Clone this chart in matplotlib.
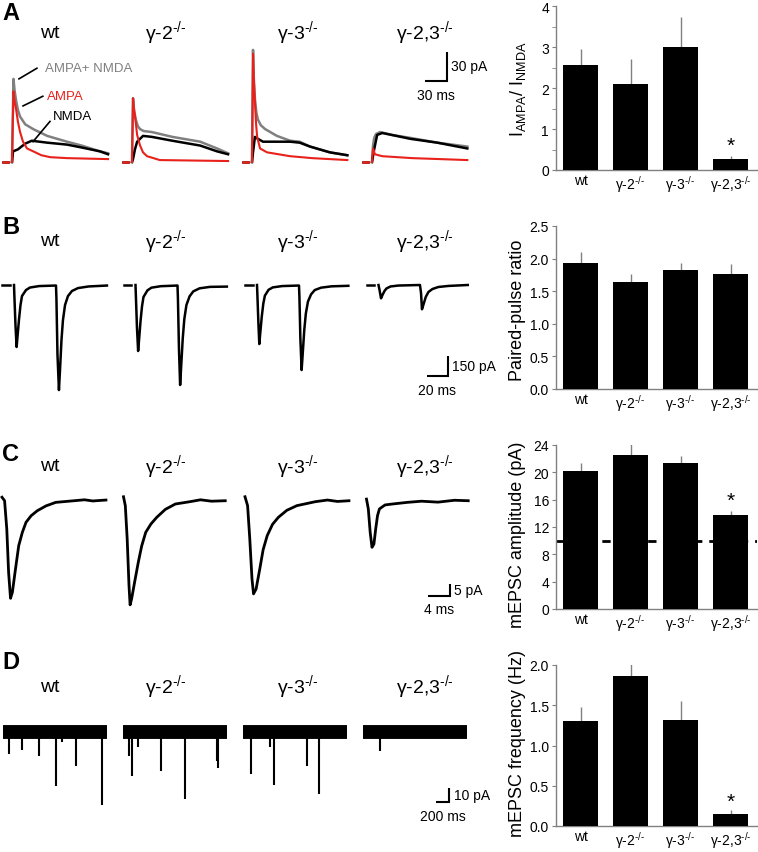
import numpy as np
import matplotlib
matplotlib.use("Agg")
import matplotlib.pyplot as plt
from matplotlib.ticker import MultipleLocator, FormatStrFormatter

plt.rcParams['font.family'] = ['Liberation Sans', 'DejaVu Sans']
plt.rcParams['mathtext.fontset'] = 'custom'
plt.rcParams['mathtext.rm'] = 'Liberation Sans'
plt.rcParams['mathtext.it'] = 'Liberation Sans:italic'
plt.rcParams['mathtext.bf'] = 'Liberation Sans:bold'

W, H = 758, 853
RED = '#e8211b'
GREY = '#808080'

# genotype labels
geno_labels = ['wt', r'γ-2$^{\text{-/-}}$', r'γ-3$^{\text{-/-}}$', r'γ-2,3$^{\text{-/-}}$']

# ---- bar chart values (mean, upper SEM) ----
ratio_mean = [2.57, 2.10, 2.99, 0.27]
ratio_err = [0.39, 0.61, 0.73, 0.07]
ppr_mean = [1.94, 1.64, 1.82, 1.77]
ppr_err = [0.16, 0.12, 0.11, 0.15]
amp_mean = [20.2, 22.5, 21.4, 13.8]
amp_err = [1.2, 1.6, 1.0, 0.6]
amp_cutoff = 10
freq_mean = [1.30, 1.86, 1.32, 0.15]
freq_err = [0.18, 0.15, 0.23, 0.045]

# ---- A: evoked EPSCs at +40 mV (ms, pA) ----
a_gray_t = [[0, 2, 3.5, 5.5, 8, 11, 18, 29, 48, 75, 95, 120, 131],
            [0, 1.4, 3, 5.5, 8, 11, 16, 27, 55, 93, 116, 131],
            [0, 1.4, 2.5, 4, 6, 8, 12, 18, 34, 52, 65, 79, 106, 130],
            [0, 1.4, 3, 5.5, 11, 27, 52, 89, 130]]
a_gray_i = [[0, 86, 74, 64, 54, 47, 39, 34, 27, 21, 17, 11, 9],
            [0, 66, 52, 43, 37, 34, 32, 31, 26, 21, 14, 9],
            [0, 116, 86, 65, 51, 44, 38, 34, 27, 22, 21, 16, 10, 7],
            [0, 17, 25, 29, 31, 28, 25, 20, 16]]
a_black_t = [[0, 1.4, 8, 18, 27, 48, 75, 95, 120, 131],
             [0, 1.4, 4, 7, 15, 27, 55, 93, 116, 131],
             [0, 1.4, 4, 8, 15, 52, 65, 79, 106, 130],
             [0, 2.7, 7, 14, 27, 52, 89, 130]]
a_black_i = [[0, 11, 13, 19, 22, 20, 18, 15, 11, 8],
             [0, 3, 13, 21, 27, 26, 22, 17, 11, 8],
             [0, 10, 26, 24, 21, 21, 20, 16, 10, 7],
             [0, 12, 28, 30, 28, 24, 20, 14]]
a_red_t = [[0, 2, 3.5, 5.5, 8, 11, 15, 20.5, 29, 40, 52, 75, 131],
           [0, 1.4, 2.5, 4, 7, 11, 15, 20.5, 38, 131],
           [0, 1.4, 2.5, 4, 5.5, 7, 11, 20.5, 52, 82, 130],
           [0, 1.4, 4, 14, 55, 130]]
a_red_i = [[0, 73, 63, 55, 42, 31, 21, 14, 11, 7, 5, 4, 3],
           [0, 66, 56, 48, 28, 17, 10, 6, 2, 1],
           [0, 112, 85, 62, 40, 26, 14, 10, 6, 4, 2],
           [0, 14, 8, 6, 4, 2]]

# ---- B: paired-pulse EPSCs (ms, pA) ----
b_t = [[0, 0.4, 1.4, 2.5, 3.3, 4.8, 6.2, 7.6, 11.4, 15.2, 24, 40,
        40.4, 41.4, 42.8, 43.8, 45.2, 46.6, 48.6, 51.4, 55.2, 61, 71, 88.5],
       [0, 0.4, 1.4, 2.5, 3.3, 4.8, 6.2, 7.6, 11.4, 15.2, 24, 40,
        40.4, 41.4, 42.5, 43.5, 45, 46.5, 48.5, 51.5, 55, 61, 71, 87],
       [0, 0.4, 1.3, 2.2, 3, 4.5, 6, 7.5, 11, 15, 24, 40,
        40.4, 41.3, 42.5, 43.5, 45, 46.5, 48.5, 51.5, 55, 61, 71, 87],
       [0, 1, 2.4, 3.8, 5.7, 7.6, 11.4, 19, 39.5,
        40.5, 41.4, 43, 45, 47.6, 51.4, 57, 66.6, 85]]
b_i = [[0, -90, -300, -465, -390, -255, -150, -83, -38, -19, -8, -4,
        -100, -520, -788, -640, -415, -265, -150, -83, -45, -23, -11, -4],
       [0, -90, -320, -495, -420, -270, -160, -90, -40, -20, -9, -4,
        -100, -480, -750, -610, -400, -255, -150, -85, -48, -25, -14, -12],
       [0, -80, -280, -443, -370, -240, -140, -80, -36, -18, -8, -4,
        -90, -400, -638, -520, -340, -215, -125, -70, -38, -20, -10, -6],
       [0, -38, -100, -75, -45, -26, -11, -4, 0,
        -60, -182, -142, -90, -52, -30, -15, -7, 0]]

# ---- C: averaged mEPSCs (ms, pA) ----
c_t = [[0, 0.47, 0.87, 1.2, 1.55, 1.89, 2.37, 3.04, 3.7, 4.37, 5.3, 6.4, 8, 9.77, 13.1, 15, 16.5, 18.9],
       [0, 0.33, 0.67, 1.0, 1.2, 1.47, 2.02, 2.69, 3.3, 4.04, 5, 6.04, 7.6, 9.43, 12.1, 14, 16, 18.5],
       [0, 0.47, 0.87, 1.27, 1.55, 2.02, 2.69, 3.3, 4.04, 5, 6.06, 7.6, 9.43, 12.8, 15, 16.8, 18.9],
       [0, 0.33, 0.67, 1.0, 1.35, 1.67, 2.0, 2.35, 3.37, 4.71, 7.4, 10, 13, 16, 18.5]]
c_i = [[1.4, -0.1, -12.2, -30.7, -41.8, -39.2, -30.7, -19.3, -13.6, -9.3, -6.5, -4.4, -2.3, -0.8, -0.1, 0.3, -0.2, 0.2],
       [1.6, -2.2, -16.4, -36.4, -44.6, -42.1, -34.9, -26.4, -19.5, -13.6, -10, -7.2, -3.8, -1.5, -0.5, 0.3, -0.3, -0.1],
       [1.6, -2.2, -16.4, -33.5, -39.9, -37.8, -29.2, -21, -15.0, -10.2, -7.2, -4.2, -2.2, -0.5, 0.2, -0.4, -0.1],
       [0.6, -3.6, -13.6, -20.0, -18.6, -12.2, -6.5, -3.6, -1.9, -1.5, -0.8, -0.3, -0.7, 0.1, -0.1]]

# ---- D: mEPSC events in 1.6 s sweeps (ms, pA) ----
d_len = 1600
d_event_t = [[95, 296, 551, 808, 911, 1120, 1519],
             [95, 142, 226, 580, 956, 1452, 1469],
             [126, 410, 479, 992, 1163],
             [262]]
d_event_a = [[-15.7, -12.6, -16.9, -38.3, -7.4, -24.1, -52.1],
             [-17.4, -31.2, -10.9, -27.6, -47.8, -20.5, -25.9],
             [-30, -10.9, -37.8, -24.5, -44.3],
             [-13.4]]

fig = plt.figure(figsize=(W / 100, H / 100), dpi=100)


def ftxt(x, y, s, **kw):
    fig.text(x / W, 1 - y / H, s, **kw)


def trace_axes(top, bottom, x0, y0, ms_px, pa_px):
    ax = fig.add_axes([0, 1 - bottom / H, 540 / W, (bottom - top) / H])
    ax.set_xlim(-x0 * ms_px, (540 - x0) * ms_px)
    ax.set_ylim((y0 - bottom) * pa_px, (y0 - top) * pa_px)
    ax.axis('off')
    return ax


def scale_bar(ax, t, i, dt, di, tlab, ilab):
    ax.plot([t - dt, t, t], [i, i, i + di], color='black', lw=1.5,
            solid_joinstyle='miter', solid_capstyle='butt')
    ax.annotate(ilab, xy=(t, i + di / 2), xytext=(3, 0), textcoords='offset points',
                ha='left', va='center', fontsize=10)
    ax.annotate(tlab, xy=(t - dt / 2, i), xytext=(0, -5), textcoords='offset points',
                ha='center', va='top', fontsize=10)


def bar_panel(top, bottom, means, errs, ymax, major, minor, fmt, ylabel, ylab_y, star=None):
    ax = fig.add_axes([556 / W, 1 - bottom / H, 201 / W, (bottom - top) / H])
    x = np.arange(len(means))
    ax.bar(x, means, width=0.7, color='black', zorder=3)
    ax.errorbar(x, means, yerr=[np.zeros(len(errs)), errs], fmt='none',
                ecolor=GREY, elinewidth=1, capsize=0, zorder=2)
    ax.set_xlim(-0.49, 3.53)
    ax.set_ylim(0, ymax)
    ax.yaxis.set_major_locator(MultipleLocator(major))
    if minor:
        ax.yaxis.set_minor_locator(MultipleLocator(minor))
    ax.yaxis.set_major_formatter(FormatStrFormatter(fmt))
    for s in ['top', 'right']:
        ax.spines[s].set_visible(False)
    for s in ['left', 'bottom']:
        ax.spines[s].set_color(GREY)
        ax.spines[s].set_linewidth(1)
    ax.tick_params(axis='y', which='both', direction='out', length=3, color=GREY,
                   labelsize=10, pad=2)
    ax.set_xticks(x)
    ax.set_xticklabels(geno_labels)
    ax.tick_params(axis='x', length=0, pad=2.5, labelsize=10)
    ftxt(518, ylab_y, ylabel, rotation=90, ha='center', va='center', fontsize=13)
    if star is not None:
        ax.text(3, star, '*', ha='center', va='center', fontsize=15)
    return ax


title_x = [50, 166, 298, 425]

# ================= A =================
axA = trace_axes(42, 205, 12, 163, 30 / 22, 30 / 29)
a_off = 120 * 30 / 22
for k in range(4):
    o = k * a_off
    axA.plot([o - 12, o - 5.5], [0, 0], color='black', lw=1.8)
    axA.plot([o - 12, o - 5.5], [0, 0], color=RED, lw=1.8)
    axA.plot(np.array(a_gray_t[k]) + o, a_gray_i[k], color=GREY, lw=1.8)
    axA.plot(np.array(a_black_t[k]) + o, a_black_i[k], color='black', lw=1.8)
    axA.plot(np.array(a_red_t[k]) + o, a_red_i[k], color=RED, lw=1.5)
axA.plot([9.5, 34], [86, 97], color='black', lw=1.2)
axA.plot([15, 42], [58, 68], color='black', lw=1.2)
axA.plot([28.6, 51.8], [21, 42], color='black', lw=1.2)
axA.text(45, 97, 'AMPA+ NMDA', color=GREY, fontsize=9.5, va='center')
axA.text(47.7, 68, 'AMPA', color=RED, fontsize=9.5, va='center')
axA.text(56, 48, 'NMDA', color='black', fontsize=9.5, va='center')
scale_bar(axA, 593, 84, 30, 30, '30 ms', '30 pA')

bar_panel(7, 171, ratio_mean, ratio_err, 4, 1, 0.5, '%d',
          r'I$_{\mathregular{AMPA}}$/ I$_{\mathregular{NMDA}}$', 89, star=0.6)

# ================= B =================
axB = trace_axes(255, 410, 14, 286, 20 / 21, 7.5)
b_off = 121.5 * 20 / 21
for k in range(4):
    o = k * b_off
    axB.plot([o - 11, o - 4], [0, 0], color='black', lw=1.8)
    axB.plot(np.array(b_t[k]) + o, b_i[k], color='black', lw=1.8)
scale_bar(axB, 413, -683, 20, 150, '20 ms', '150 pA')

bar_panel(227, 390, ppr_mean, ppr_err, 2.5, 0.5, None, '%.1f',
          'Paired-pulse ratio', 310)

# ================= C =================
axC = trace_axes(480, 625, 2, 501.5, 4 / 22, 5 / 11.7)
c_off = 121.5 * 4 / 22
for k in range(4):
    o = k * c_off
    axC.plot(np.array(c_t[k]) + o, c_i[k], color='black', lw=2)
scale_bar(axC, 81.4, -40.6, 4, 5, '4 ms', '5 pA')

axAmp = bar_panel(446, 610, amp_mean, amp_err, 24, 4, None, '%d',
                  'mEPSC amplitude (pA)', 535, star=15.9)
axAmp.axhline(amp_cutoff, color='black', lw=2, ls=(0, (3, 2.5)), zorder=1)

# ================= D =================
axD = trace_axes(700, 830, 3, 733, 200 / 13, 10 / 14)
d_off = 120 * 200 / 13
for k in range(4):
    o = k * d_off
    axD.plot([o, o + d_len], [0, 0], color='black', lw=10, solid_capstyle='butt')
    axD.vlines(np.array(d_event_t[k]) + o, 0, d_event_a[k], color='black', lw=1.5)
scale_bar(axD, 6868, -50, 200, 10, '200 ms', '10 pA')

bar_panel(666, 827, freq_mean, freq_err, 2.0, 0.5, None, '%.1f',
          'mEPSC frequency (Hz)', 744, star=0.31)

# titles and panel letters
for row_y in [33, 242, 467, 687]:
    for k in range(4):
        ftxt(title_x[k], row_y, geno_labels[k], ha='center', va='center', fontsize=14)
for lab, ly in zip('ABCD', [13, 228, 455, 663]):
    ftxt(2, ly, lab, ha='left', va='center', fontsize=17, fontweight='bold')

fig.savefig('out.png', dpi=100)
